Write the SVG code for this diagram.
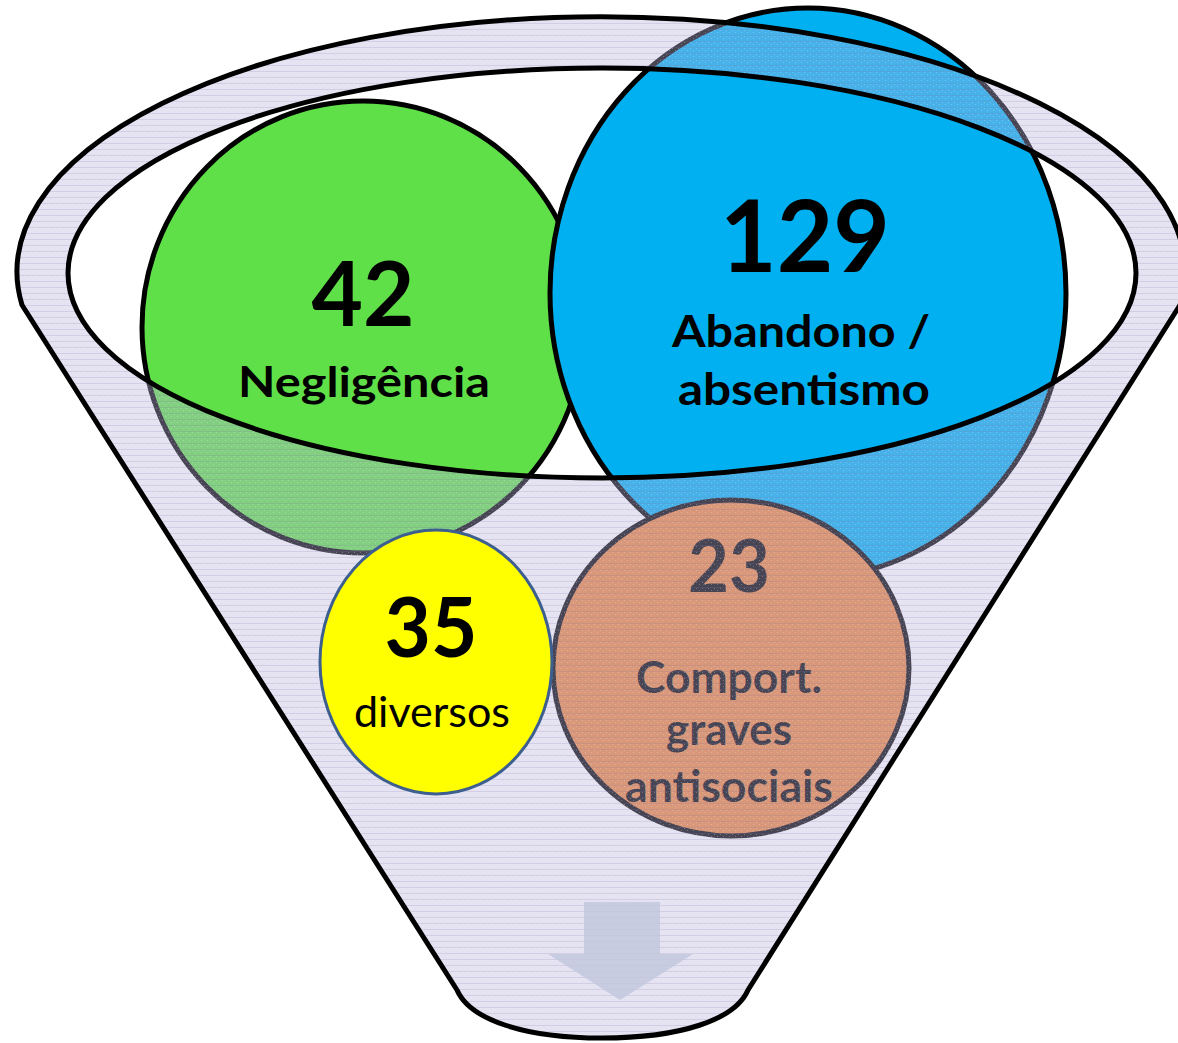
<svg xmlns="http://www.w3.org/2000/svg" width="1178" height="1043" viewBox="0 0 1178 1043">
<defs>
<style>
.num{font-family:Lato,"Open Sans","Liberation Sans",sans-serif;font-weight:bold;text-anchor:middle;fill:#000}
.lbl{font-family:Lato,"Open Sans","Liberation Sans",sans-serif;font-weight:bold;text-anchor:middle;fill:#000}
.reg{font-family:Lato,"Open Sans","Liberation Sans",sans-serif;font-weight:normal;text-anchor:middle;fill:#000}
.ring{stroke:#000;stroke-width:5}
</style>
<pattern id="tex" width="6" height="6" patternUnits="userSpaceOnUse">
<rect width="6" height="6" fill="#bcb2dd" fill-opacity="0.38"/>
<rect y="5" width="6" height="1" fill="#7d72a6" fill-opacity="0.18"/>
<rect x="0" y="0" width="1" height="1" fill="#ffffff" fill-opacity="0.25"/>
<rect x="3" y="2" width="1" height="1" fill="#ffffff" fill-opacity="0.25"/>
</pattern>
</defs>

<g id="node-negligencia">
<ellipse cx="363" cy="327" rx="221" ry="226" fill="#60E048" class="ring"/>
<text class="num" x="363" y="326" font-size="89" textLength="103" lengthAdjust="spacingAndGlyphs">42</text>
<text class="lbl" x="364" y="397" font-size="42" textLength="252" lengthAdjust="spacingAndGlyphs">Negligência</text>
</g>

<g id="node-abandono">
<ellipse cx="808" cy="293" rx="258" ry="285" fill="#00B0F0" class="ring"/>
<text class="num" x="805" y="272" font-size="100" textLength="170" lengthAdjust="spacingAndGlyphs">129</text>
<text class="lbl" x="801" y="347" font-size="44" textLength="258" lengthAdjust="spacingAndGlyphs">Abandono /</text>
<text class="lbl" x="804" y="405" font-size="44" textLength="252" lengthAdjust="spacingAndGlyphs">absentismo</text>
</g>

<g id="node-comport">
<ellipse cx="731" cy="668" rx="178" ry="168" fill="#EC873C" class="ring"/>
<text class="num" x="729" y="592" font-size="72" textLength="82" lengthAdjust="spacingAndGlyphs">23</text>
<text class="lbl" x="729" y="693" font-size="43" textLength="186" lengthAdjust="spacingAndGlyphs">Comport.</text>
<text class="lbl" x="729" y="745" font-size="43" textLength="126" lengthAdjust="spacingAndGlyphs">graves</text>
<text class="lbl" x="729" y="802" font-size="43" textLength="208" lengthAdjust="spacingAndGlyphs">antisociais</text>
</g>

<g id="funnel">
<path fill="url(#tex)" fill-rule="evenodd" d="M 22 305 A 584 255 0 1 1 1180 305 L 748 990 C 735 1020 680 1038 602 1038 C 525 1038 470 1020 457 990 Z M 68 273 A 534 205 0 1 0 1136 273 A 534 205 0 1 0 68 273 Z"/>
<path fill="none" stroke="#000" stroke-width="5" stroke-linejoin="round" d="M 22 305 A 584 255 0 1 1 1180 305 L 748 990 C 735 1020 680 1038 602 1038 C 525 1038 470 1020 457 990 Z"/>
<ellipse cx="602" cy="273" rx="534" ry="205" fill="none" stroke="#000" stroke-width="5"/>
<path id="arrow" fill="#c3c8de" fill-opacity="0.85" d="M 584 902 L 660 902 L 660 954 L 693 954 L 620 1000 L 548 954 L 584 954 Z"/>
</g>

<g id="node-diversos">
<ellipse cx="436" cy="662" rx="116" ry="132" fill="#FFFF00" stroke="#3D5F8F" stroke-width="3"/>
<text class="num" x="431" y="657" font-size="82" textLength="93" lengthAdjust="spacingAndGlyphs">35</text>
<text class="reg" x="432" y="727" font-size="42" textLength="156" lengthAdjust="spacingAndGlyphs">diversos</text>
</g>

<g id="connectors"></g>
</svg>
